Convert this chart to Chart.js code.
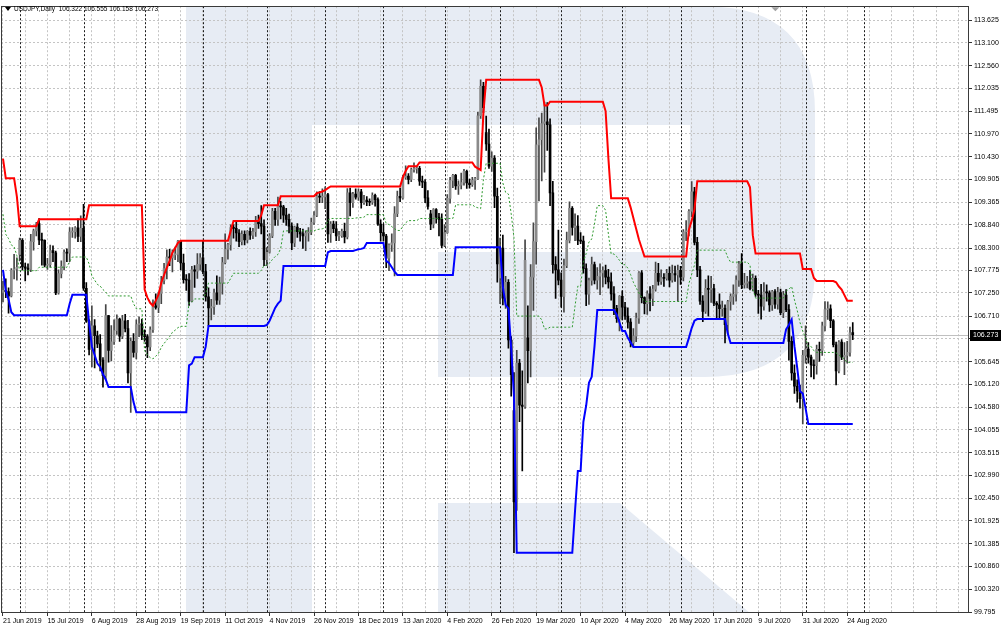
<!DOCTYPE html>
<html>
<head>
<meta charset="utf-8">
<title>USDJPY Daily</title>
<script src="https://cdn.jsdelivr.net/npm/chart.js@4.4.1/dist/chart.umd.min.js"></script>
<style>
  html, body { margin: 0; padding: 0; background: #fff; }
  #wrap { width: 1002px; height: 630px; }
</style>
</head>
<body>
<div id="wrap"><canvas id="usdjpy-chart" width="1002" height="630"></canvas></div>
<script>
// daily bars, 21 Jun 2019 .. 26 Aug 2020 (index = bar number)
const symbolTitle = 'USDJPY,Daily';

const opens = [
  107.26,107.31,107.28,107.18,107.78,107.81,108.15,108.48,107.86,107.83,
  107.80,108.45,108.70,108.87,108.49,108.48,107.90,107.91,108.24,108.19,
  107.25,107.70,107.87,108.20,108.18,108.67,108.68,108.77,108.57,108.76,
  107.36,106.59,105.93,106.48,106.25,106.06,105.68,105.32,106.72,105.91,
  106.11,106.37,106.64,106.24,106.60,106.42,105.38,106.12,105.86,106.51,
  106.53,106.27,106.23,105.99,106.39,106.95,106.91,107.24,107.54,107.82,
  108.09,108.07,108.14,108.15,108.46,107.95,107.56,107.55,107.06,107.79,
  107.76,107.92,108.07,107.75,107.16,106.90,106.93,107.25,107.08,107.48,
  107.96,108.27,108.38,108.78,108.76,108.65,108.45,108.62,108.49,108.69,
  108.60,108.68,108.92,108.87,108.81,108.03,108.20,108.58,109.16,108.97,
  109.28,109.26,109.07,108.97,108.81,108.42,108.79,108.68,108.63,108.58,
  108.65,108.67,108.90,109.06,109.51,109.49,109.50,109.55,108.63,108.86,
  108.75,108.58,108.59,108.69,108.56,109.59,109.36,109.56,109.49,109.61,
  109.36,109.42,109.38,109.37,109.53,109.43,108.86,108.66,108.58,108.06,
  108.37,108.42,109.10,109.51,109.47,109.95,109.98,109.90,110.13,110.15,
  110.16,109.86,109.84,109.47,109.10,108.86,109.20,109.02,108.97,108.36,
  108.66,109.46,109.88,110.00,109.75,109.77,109.83,110.09,109.82,109.78,
  109.88,109.92,111.39,112.08,111.00,110.73,110.21,110.40,109.51,107.60,
  108.30,107.13,107.50,106.15,104.50,102.37,105.61,104.63,104.60,106.20,
  105.90,107.62,108.45,110.71,110.83,111.21,111.25,111.18,109.59,107.91,
  107.79,107.55,107.17,107.89,108.48,109.23,108.78,108.81,108.48,108.46,
  107.82,107.22,107.54,107.91,107.55,107.64,107.72,107.77,107.62,107.51,
  107.23,106.89,106.65,107.17,106.92,106.71,106.57,106.08,106.24,106.66,
  107.72,107.14,107.00,107.23,107.12,107.34,107.71,107.52,107.61,107.59,
  107.71,107.55,107.70,107.67,107.78,107.62,108.68,108.69,109.16,109.61,
  108.43,107.79,107.06,106.82,107.36,107.33,107.35,107.01,106.97,106.88,
  106.89,106.51,107.05,107.17,107.22,107.55,107.93,107.44,107.48,107.51,
  107.35,107.59,107.22,107.20,106.94,107.27,107.25,106.97,107.28,106.99,
  107.26,106.79,107.20,106.86,106.12,105.38,105.07,104.96,104.78,105.79,
  105.94,105.75,105.57,105.55,105.93,105.91,106.48,106.86,106.88,106.60,
  106.04,105.43,106.10,105.75,105.79,105.86,106.322
];
const highs = [
  107.53,107.58,107.37,107.82,108.15,108.07,108.53,108.52,107.95,107.93,
  108.62,108.74,108.90,108.99,108.65,108.49,108.06,108.37,108.35,108.23,
  107.79,108.00,108.26,108.28,108.78,108.78,108.80,108.98,109.05,109.32,
  107.49,106.62,106.95,106.63,106.36,106.28,105.74,106.98,106.73,106.49,
  106.62,106.74,106.66,106.73,106.75,106.61,106.20,106.30,106.62,106.69,
  106.64,106.39,106.28,106.46,107.09,107.23,107.27,107.64,107.94,108.26,
  108.27,108.26,108.32,108.48,108.48,108.16,107.68,107.70,107.87,107.89,
  108.17,108.17,108.47,107.92,107.37,107.10,107.34,107.65,107.62,108.08,
  108.63,108.41,108.84,108.85,108.94,108.73,108.70,108.70,108.71,108.77,
  108.76,109.04,109.07,109.29,108.96,108.31,108.64,109.23,109.23,109.49,
  109.39,109.30,109.23,109.09,108.89,108.81,108.87,108.76,108.74,108.70,
  108.78,109.00,109.15,109.61,109.62,109.68,109.73,109.58,108.92,108.93,
  108.92,108.69,108.74,108.88,109.69,109.70,109.60,109.68,109.68,109.67,
  109.53,109.50,109.45,109.59,109.56,109.47,108.96,108.86,108.62,108.40,
  108.63,109.27,109.63,109.70,110.00,110.22,110.04,110.17,110.29,110.20,
  110.21,109.98,109.90,109.64,109.18,109.22,109.22,109.11,109.10,108.85,
  109.55,109.95,110.02,110.02,109.87,110.05,110.14,110.12,109.91,109.95,
  109.95,111.47,112.23,112.17,111.38,111.08,110.55,110.46,109.70,108.53,
  108.60,107.64,107.56,106.23,105.39,105.91,105.70,105.43,108.49,106.95,
  107.91,108.89,111.11,111.34,111.45,111.71,111.70,111.32,109.86,108.10,
  108.72,107.72,108.04,108.67,109.38,109.27,109.10,109.06,108.66,108.58,
  107.93,107.60,108.09,107.97,107.84,107.93,107.86,107.90,107.80,107.72,
  107.40,106.96,107.19,107.30,107.03,106.90,106.65,106.42,106.78,107.75,
  107.77,107.16,107.30,107.40,107.43,107.97,107.94,107.79,107.70,107.80,
  107.86,107.90,107.88,107.90,107.87,108.73,108.94,109.20,109.85,109.72,
  108.55,107.87,107.19,107.56,107.65,107.64,107.45,107.05,107.23,107.06,
  106.97,107.08,107.23,107.44,107.65,107.99,108.17,107.71,107.64,107.78,
  107.69,107.65,107.31,107.45,107.49,107.44,107.30,107.31,107.33,107.38,
  107.34,107.29,107.33,106.98,106.23,105.57,105.22,105.10,105.91,106.48,
  106.09,105.80,105.69,106.03,106.10,106.57,107.05,107.04,106.97,106.63,
  106.10,106.14,106.16,106.09,106.12,106.45,106.555
];
const lows = [
  107.04,107.14,106.78,107.16,107.58,107.55,108.00,107.79,107.53,107.67,
  107.75,108.25,108.58,108.38,107.90,107.86,107.80,107.85,107.98,107.21,
  107.22,107.60,107.79,107.98,107.98,108.55,108.53,108.45,108.45,107.31,
  106.56,105.80,105.52,105.50,105.97,105.43,105.05,105.23,105.63,105.66,
  106.05,106.28,106.12,106.18,106.34,105.15,104.46,105.75,105.71,106.23,
  106.16,106.12,105.74,105.90,106.33,106.87,106.79,107.00,107.46,107.58,
  107.89,107.74,108.03,107.98,107.79,107.48,107.31,106.96,107.04,107.38,
  107.59,107.78,107.70,107.06,106.48,106.62,106.75,106.98,106.98,107.22,
  107.93,108.04,108.25,108.53,108.46,108.33,108.37,108.37,108.42,108.50,
  108.52,108.57,108.76,108.63,107.89,107.89,108.18,108.54,108.83,108.83,
  108.98,108.90,108.83,108.65,108.26,108.33,108.55,108.46,108.29,108.24,
  108.46,108.61,108.85,109.03,109.36,109.36,109.22,108.43,108.43,108.66,
  108.47,108.47,108.55,108.42,108.51,109.05,109.25,109.44,109.41,109.23,
  109.32,109.29,109.29,109.32,109.28,108.83,108.46,108.46,107.84,107.77,
  108.22,107.65,109.03,109.38,109.44,109.91,109.80,109.85,110.07,110.05,
  109.76,109.71,109.36,109.21,108.73,108.77,108.88,108.58,108.31,108.33,
  108.64,109.35,109.71,109.67,109.55,109.68,109.77,109.69,109.70,109.74,
  109.67,109.90,111.33,111.46,110.58,110.16,110.09,109.24,107.50,107.00,
  106.97,106.89,105.96,104.84,101.18,102.17,104.24,103.09,104.55,105.15,
  105.29,106.84,107.92,109.40,109.87,110.07,110.58,109.29,107.71,107.12,
  107.44,106.92,106.80,107.84,108.42,108.60,108.47,108.38,108.40,107.71,
  106.95,106.98,107.43,107.46,107.34,107.21,107.39,107.46,107.36,107.08,
  106.74,106.56,106.36,106.62,106.63,106.43,105.99,105.99,106.11,106.54,
  107.02,106.76,106.75,106.83,106.95,107.29,107.43,107.45,107.40,107.55,
  107.39,107.50,107.52,107.06,107.45,107.53,108.47,108.58,109.03,108.37,
  107.63,106.98,106.58,106.77,106.71,107.03,106.95,106.67,106.63,106.71,
  106.08,106.32,106.85,106.98,107.06,107.40,107.35,107.36,107.37,107.32,
  107.30,107.17,106.77,106.64,106.85,107.06,106.82,106.84,106.89,106.87,
  106.74,106.67,106.81,105.68,105.21,104.90,104.70,104.56,104.19,105.61,
  105.61,105.29,105.24,105.35,105.65,105.79,106.36,106.63,106.44,105.99,
  105.10,105.38,105.69,105.34,105.61,105.77,106.158
];
const closes = [
  107.31,107.28,107.18,107.78,107.81,107.85,108.48,107.86,107.83,107.80,
  108.45,108.70,108.87,108.49,108.48,107.90,107.91,108.24,108.19,107.25,
  107.70,107.87,108.20,108.18,108.67,108.68,108.77,108.57,108.76,107.36,
  106.59,105.93,106.48,106.25,106.06,105.68,105.32,106.72,105.91,106.11,
  106.37,106.64,106.24,106.60,106.42,105.38,106.12,105.86,106.51,106.53,
  106.27,106.23,105.99,106.39,106.95,106.91,107.24,107.54,107.82,108.09,
  108.07,108.14,108.15,108.46,107.95,107.56,107.55,107.06,107.79,107.76,
  107.92,108.07,107.75,107.16,106.90,106.93,107.25,107.08,107.48,107.96,
  108.27,108.38,108.78,108.76,108.65,108.45,108.62,108.49,108.69,108.60,
  108.68,108.92,108.87,108.81,108.03,108.20,108.58,109.16,108.97,109.28,
  109.26,109.07,108.97,108.81,108.42,108.79,108.68,108.63,108.58,108.65,
  108.67,108.90,109.06,109.51,109.49,109.50,109.55,108.63,108.86,108.75,
  108.58,108.59,108.69,108.56,109.59,109.36,109.56,109.49,109.61,109.36,
  109.42,109.38,109.37,109.53,109.43,108.86,108.66,108.58,108.06,108.37,
  108.42,109.10,109.51,109.47,109.95,109.98,109.90,110.13,110.15,110.16,
  109.86,109.84,109.47,109.27,108.86,109.20,109.02,108.97,108.36,108.66,
  109.46,109.88,110.00,109.75,109.77,109.83,110.09,109.82,109.78,109.88,
  109.92,111.39,112.08,111.58,110.73,110.21,110.40,109.51,107.93,108.30,
  107.13,107.50,106.15,105.34,102.37,105.61,104.63,104.60,108.01,105.90,
  107.62,108.45,110.71,110.83,111.21,111.25,111.18,109.59,107.91,107.79,
  107.55,107.17,107.89,108.48,109.23,108.78,108.81,108.48,108.46,107.82,
  107.22,107.54,107.91,107.55,107.64,107.72,107.77,107.62,107.51,107.23,
  106.89,106.65,107.17,106.92,106.71,106.57,106.08,106.24,106.66,107.72,
  107.14,107.00,107.23,107.12,107.34,107.71,107.52,107.61,107.59,107.71,
  107.55,107.70,107.67,107.78,107.62,108.68,108.69,109.16,109.61,108.43,
  107.79,107.06,106.82,107.36,107.33,107.35,107.01,106.97,106.88,106.89,
  106.51,107.05,107.17,107.22,107.55,107.93,107.44,107.48,107.51,107.35,
  107.59,107.22,107.20,106.94,107.27,107.25,106.97,107.28,106.99,107.26,
  106.79,107.20,106.86,106.12,105.38,105.07,104.96,104.78,105.79,105.94,
  105.75,105.57,105.55,105.93,105.91,106.48,106.86,106.88,106.60,106.04,
  105.43,106.10,105.75,105.79,105.86,106.32,106.273
];

// Donchian channel
const channelUpper = [
  110.39,109.93,109.93,109.93,109.93,109.50,108.81,108.81,108.81,108.81,
  108.81,108.81,108.81,108.97,108.97,108.97,108.97,108.97,108.97,108.97,
  108.97,108.97,108.97,108.97,108.97,108.97,108.97,108.97,108.97,108.97,
  108.97,109.30,109.30,109.30,109.30,109.30,109.30,109.30,109.30,109.30,
  109.30,109.30,109.30,109.30,109.30,109.30,109.30,109.30,109.30,109.30,
  109.30,107.33,107.14,107.02,106.95,107.07,107.21,107.49,107.67,107.84,
  108.00,108.19,108.30,108.42,108.47,108.47,108.47,108.47,108.47,108.47,
  108.47,108.47,108.47,108.47,108.47,108.47,108.47,108.47,108.47,108.47,
  108.47,108.47,108.70,108.93,108.93,108.93,108.93,108.93,108.93,108.93,
  108.93,108.93,108.93,109.07,109.30,109.30,109.30,109.30,109.30,109.30,
  109.51,109.51,109.51,109.51,109.51,109.51,109.51,109.51,109.51,109.51,
  109.51,109.51,109.51,109.58,109.60,109.62,109.65,109.70,109.74,109.74,
  109.74,109.74,109.74,109.74,109.74,109.74,109.74,109.74,109.74,109.74,
  109.74,109.74,109.74,109.74,109.74,109.74,109.74,109.74,109.74,109.74,
  109.74,109.74,109.74,109.74,109.95,110.10,110.21,110.21,110.21,110.21,
  110.30,110.30,110.30,110.30,110.30,110.30,110.30,110.30,110.30,110.30,
  110.30,110.30,110.30,110.30,110.30,110.30,110.30,110.30,110.30,110.30,
  110.20,110.16,110.12,111.47,112.23,112.23,112.23,112.23,112.23,112.23,
  112.23,112.23,112.23,112.23,112.23,112.23,112.23,112.23,112.23,112.23,
  112.23,112.23,112.23,112.23,112.05,111.63,111.63,111.72,111.72,111.72,
  111.72,111.72,111.72,111.72,111.72,111.72,111.72,111.72,111.72,111.72,
  111.72,111.72,111.72,111.72,111.72,111.72,111.72,111.50,110.40,109.46,
  109.46,109.46,109.46,109.46,109.46,109.46,109.25,109.00,108.75,108.50,
  108.30,108.10,108.10,108.10,108.10,108.10,108.10,108.10,108.10,108.10,
  108.10,108.10,108.10,108.10,108.10,108.10,108.10,108.73,108.94,109.20,
  109.86,109.86,109.86,109.86,109.86,109.86,109.86,109.86,109.86,109.86,
  109.86,109.86,109.86,109.86,109.86,109.86,109.86,109.86,109.86,109.72,
  108.60,108.17,108.17,108.17,108.17,108.17,108.17,108.17,108.17,108.17,
  108.17,108.17,108.17,108.17,108.17,108.17,108.17,108.17,107.81,107.81,
  107.81,107.81,107.60,107.53,107.53,107.53,107.53,107.53,107.53,107.53,
  107.50,107.40,107.33,107.20,107.07,107.07,107.07
];
const channelLower = [
  107.79,107.30,107.10,106.80,106.73,106.73,106.73,106.73,106.73,106.73,
  106.73,106.73,106.73,106.73,106.73,106.73,106.73,106.73,106.73,106.73,
  106.73,106.73,106.73,106.73,107.00,107.21,107.21,107.21,107.21,107.21,
  107.21,106.56,106.00,105.80,105.60,105.52,105.35,105.23,105.05,105.05,
  105.05,105.05,105.05,105.05,105.05,105.05,105.05,104.70,104.46,104.46,
  104.46,104.46,104.46,104.46,104.46,104.46,104.46,104.46,104.46,104.46,
  104.46,104.46,104.46,104.46,104.46,104.46,104.46,105.56,105.60,105.75,
  105.75,105.75,105.75,106.00,106.48,106.48,106.48,106.48,106.48,106.48,
  106.48,106.48,106.48,106.48,106.48,106.48,106.48,106.48,106.48,106.48,
  106.48,106.48,106.48,106.48,106.48,106.50,106.60,106.75,106.90,107.00,
  107.07,107.88,107.88,107.88,107.88,107.88,107.88,107.88,107.88,107.88,
  107.88,107.88,107.88,107.88,107.88,107.88,107.88,108.20,108.23,108.23,
  108.23,108.23,108.23,108.23,108.23,108.23,108.23,108.25,108.27,108.28,
  108.30,108.42,108.42,108.42,108.42,108.42,108.42,108.42,108.00,107.95,
  107.85,107.75,107.67,107.67,107.67,107.67,107.67,107.67,107.67,107.67,
  107.67,107.67,107.67,107.67,107.67,107.67,107.67,107.67,107.67,107.67,
  107.67,107.67,107.67,108.32,108.32,108.32,108.32,108.32,108.32,108.32,
  108.32,108.32,108.32,108.32,108.32,108.32,108.32,108.32,108.32,108.32,
  107.40,106.97,106.89,105.96,104.84,101.18,101.18,101.18,101.18,101.18,
  101.18,101.18,101.18,101.18,101.18,101.18,101.18,101.18,101.18,101.18,
  101.18,101.18,101.18,101.18,101.18,101.18,102.17,103.09,103.09,104.24,
  104.62,105.15,105.29,106.00,106.85,106.85,106.85,106.85,106.85,106.85,
  106.85,106.74,106.56,106.36,106.36,106.20,106.10,105.99,105.99,105.99,
  105.99,105.99,105.99,105.99,105.99,105.99,105.99,105.99,105.99,105.99,
  105.99,105.99,105.99,105.99,105.99,105.99,105.99,106.20,106.43,106.60,
  106.64,106.64,106.64,106.64,106.64,106.64,106.64,106.64,106.64,106.64,
  106.64,106.30,106.08,106.08,106.08,106.08,106.08,106.08,106.08,106.08,
  106.08,106.08,106.08,106.08,106.08,106.08,106.08,106.08,106.08,106.08,
  106.08,106.08,106.40,106.50,106.63,106.00,105.50,104.95,104.90,104.56,
  104.19,104.19,104.19,104.19,104.19,104.19,104.19,104.19,104.19,104.19,
  104.19,104.19,104.19,104.19,104.19,104.19,104.19
];
const channelMiddle = [
  109.09,108.62,108.52,108.37,108.33,108.12,107.77,107.77,107.77,107.77,
  107.77,107.77,107.77,107.85,107.85,107.85,107.85,107.85,107.85,107.85,
  107.85,107.85,107.85,107.85,107.99,108.09,108.09,108.09,108.09,108.09,
  108.09,107.93,107.65,107.55,107.45,107.41,107.33,107.27,107.18,107.18,
  107.18,107.18,107.18,107.18,107.18,107.18,107.18,107.00,106.88,106.88,
  106.88,105.90,105.80,105.74,105.71,105.77,105.84,105.98,106.07,106.15,
  106.23,106.33,106.38,106.44,106.47,106.47,106.47,107.02,107.04,107.11,
  107.11,107.11,107.11,107.24,107.48,107.48,107.48,107.48,107.48,107.48,
  107.48,107.48,107.59,107.71,107.71,107.71,107.71,107.71,107.71,107.71,
  107.71,107.71,107.71,107.78,107.89,107.90,107.95,108.03,108.10,108.15,
  108.29,108.70,108.70,108.70,108.70,108.70,108.70,108.70,108.70,108.70,
  108.70,108.70,108.70,108.73,108.74,108.75,108.77,108.95,108.99,108.99,
  108.99,108.99,108.99,108.99,108.99,108.99,108.99,109.00,109.01,109.01,
  109.02,109.08,109.08,109.08,109.08,109.08,109.08,109.08,108.87,108.85,
  108.80,108.75,108.71,108.71,108.81,108.89,108.94,108.94,108.94,108.94,
  108.99,108.99,108.99,108.99,108.99,108.99,108.99,108.99,108.99,108.99,
  108.99,108.99,108.99,109.31,109.31,109.31,109.31,109.31,109.31,109.31,
  109.26,109.24,109.22,109.90,110.28,110.28,110.28,110.28,110.28,110.28,
  109.82,109.60,109.56,109.10,108.54,106.71,106.71,106.71,106.71,106.71,
  106.71,106.71,106.71,106.71,106.62,106.41,106.41,106.45,106.45,106.45,
  106.45,106.45,106.45,106.45,106.45,106.45,106.95,107.41,107.41,107.98,
  108.17,108.44,108.51,108.86,109.29,109.29,109.29,109.18,108.63,108.16,
  108.16,108.10,108.01,107.91,107.91,107.83,107.68,107.50,107.37,107.25,
  107.15,107.05,107.05,107.05,107.05,107.05,107.05,107.05,107.05,107.05,
  107.05,107.05,107.05,107.05,107.05,107.05,107.05,107.47,107.69,107.90,
  108.25,108.25,108.25,108.25,108.25,108.25,108.25,108.25,108.25,108.25,
  108.25,108.08,107.97,107.97,107.97,107.97,107.97,107.97,107.97,107.90,
  107.34,107.13,107.13,107.13,107.13,107.13,107.13,107.13,107.13,107.13,
  107.13,107.13,107.29,107.34,107.40,107.09,106.84,106.56,106.36,106.19,
  106.00,106.00,105.90,105.86,105.86,105.86,105.86,105.86,105.86,105.86,
  105.85,105.80,105.76,105.70,105.63,105.63,105.63
];

// axis texts
const dateLabels = ['21 Jun 2019', '15 Jul 2019', '6 Aug 2019', '28 Aug 2019', '19 Sep 2019',
  '11 Oct 2019', '4 Nov 2019', '26 Nov 2019', '18 Dec 2019', '13 Jan 2020', '4 Feb 2020',
  '26 Feb 2020', '19 Mar 2020', '10 Apr 2020', '4 May 2020', '26 May 2020', '17 Jun 2020',
  '9 Jul 2020', '31 Jul 2020', '24 Aug 2020'];
const barsPerLabel = 16;
const monthStartBars = [6, 29, 51, 72, 95, 116, 137, 159, 179, 201, 223, 244, 266, 289, 310];
const priceTicks = [113.625, 113.100, 112.560, 112.035, 111.495, 110.970, 110.430, 109.905,
  109.365, 108.840, 108.300, 107.775, 107.250, 106.710, 106.185, 105.645, 105.120, 104.580,
  104.055, 103.515, 102.990, 102.450, 101.925, 101.385, 100.860, 100.320, 99.795];

Chart.defaults.font.family = "'Liberation Sans', Arial, sans-serif";

const lastBar = closes.length - 1;
const lastLabelBar = (dateLabels.length - 1) * barsPerLabel;
const gridBars = [];
for (let b = 0; b <= 344; b += barsPerLabel / 2) gridBars.push(b);

const bullBody = '#8a8a8a', bullWick = '#454545', bearBody = '#000000', bearWick = '#000000';
const bodyColors = opens.map((o, i) => closes[i] >= o ? bullBody : bearBody);
const wickColors = opens.map((o, i) => closes[i] >= o ? bullWick : bearWick);

const fmt = v => v.toFixed(3);

const mtDecor = {
  id: 'mtDecor',
  beforeDraw(chart) {
    const { ctx, chartArea: a } = chart;
    ctx.save();
    ctx.fillStyle = '#fff';
    ctx.fillRect(0, 0, chart.width, chart.height);
    ctx.beginPath();
    ctx.rect(a.left, a.top, a.right - a.left, a.bottom - a.top);
    ctx.clip();
    // broker watermark "R"
    ctx.fillStyle = '#e7ecf4';
    ctx.beginPath();
    ctx.moveTo(186, a.top);
    ctx.lineTo(705, a.top);
    ctx.quadraticCurveTo(815, a.top, 815, 112);
    ctx.lineTo(815, 267);
    ctx.quadraticCurveTo(815, 377, 705, 377);
    ctx.lineTo(438, 377);
    ctx.lineTo(438, 252);
    ctx.lineTo(690, 252);
    ctx.lineTo(690, 125);
    ctx.lineTo(312, 125);
    ctx.lineTo(312, a.bottom);
    ctx.lineTo(186, a.bottom);
    ctx.closePath();
    ctx.fill();
    ctx.beginPath();
    ctx.moveTo(438, 503);
    ctx.lineTo(620, 503);
    ctx.lineTo(770, 630);
    ctx.lineTo(438, 630);
    ctx.closePath();
    ctx.fill();
    ctx.restore();
  },
  beforeDatasetsDraw(chart) {
    const { ctx, chartArea: a, scales: { x, y } } = chart;
    ctx.save();
    // period separators
    ctx.strokeStyle = '#1a1a1a';
    ctx.lineWidth = 1;
    ctx.setLineDash([2, 2]);
    monthStartBars.forEach(b => {
      const px = Math.round(x.getPixelForValue(b)) + 0.5;
      ctx.beginPath();
      ctx.moveTo(px, a.top);
      ctx.lineTo(px, a.bottom);
      ctx.stroke();
    });
    // bid line
    ctx.setLineDash([]);
    ctx.strokeStyle = '#c0c0c0';
    const py = Math.round(y.getPixelForValue(closes[lastBar])) + 0.5;
    ctx.beginPath();
    ctx.moveTo(a.left, py);
    ctx.lineTo(a.right, py);
    ctx.stroke();
    ctx.restore();
  },
  afterDraw(chart) {
    const { ctx, chartArea: a, scales: { y } } = chart;
    ctx.save();
    // frame
    ctx.strokeStyle = '#3a3a3a';
    ctx.lineWidth = 1;
    ctx.strokeRect(Math.round(a.left) + 0.5, Math.round(a.top) + 0.5,
      Math.round(a.right - a.left) - 1, Math.round(a.bottom - a.top) - 1);
    // last price box
    const py = Math.round(y.getPixelForValue(closes[lastBar]));
    ctx.fillStyle = '#000';
    ctx.fillRect(a.right + 1, py - 5, 31, 11);
    ctx.fillStyle = '#fff';
    ctx.font = "7px 'Liberation Sans', Arial, sans-serif";
    ctx.textBaseline = 'middle';
    ctx.textAlign = 'left';
    ctx.fillText(fmt(closes[lastBar]), a.right + 4, py + 0.5);
    // chart shift marker
    ctx.fillStyle = '#a0a0a0';
    const sx = a.left + (a.right - a.left) * 0.8;
    ctx.beginPath();
    ctx.moveTo(sx - 4, a.top + 1);
    ctx.lineTo(sx + 4, a.top + 1);
    ctx.lineTo(sx, a.top + 5);
    ctx.closePath();
    ctx.fill();
    // title
    ctx.fillStyle = '#000';
    ctx.beginPath();
    ctx.moveTo(5, 7);
    ctx.lineTo(11, 7);
    ctx.lineTo(8, 11);
    ctx.closePath();
    ctx.fill();
    ctx.font = "6.5px 'Liberation Sans', Arial, sans-serif";
    ctx.fillText(symbolTitle + '  ' + [opens, highs, lows, closes].map(s => fmt(s[lastBar])).join(' '), 14, 9.5);
    ctx.restore();
  }
};

const toPoints = arr => arr.map((v, i) => ({ x: i, y: v }));

new Chart(document.getElementById('usdjpy-chart'), {
  type: 'bar',
  data: {
    datasets: [
      { type: 'line', label: 'Upper', data: toPoints(channelUpper), borderColor: '#ff0000', borderWidth: 2,
        pointRadius: 0, tension: 0, order: 0 },
      { type: 'line', label: 'Lower', data: toPoints(channelLower), borderColor: '#0000ff', borderWidth: 2,
        pointRadius: 0, tension: 0, order: 0 },
      { type: 'line', label: 'Middle', data: toPoints(channelMiddle), borderColor: '#2e9a2e', borderWidth: 1,
        borderDash: [2, 2], pointRadius: 0, tension: 0, order: 0 },
      { type: 'bar', label: 'Body', data: opens.map((o, i) => ({ x: i, y: [Math.min(o, closes[i]), Math.max(o, closes[i])] })),
        backgroundColor: bodyColors, borderWidth: 0, barThickness: 2, minBarLength: 1, grouped: false, order: 1 },
      { type: 'bar', label: 'Wick', data: lows.map((l, i) => ({ x: i, y: [l, highs[i]] })),
        backgroundColor: wickColors, borderWidth: 0, barThickness: 1, grouped: false, order: 2 }
    ]
  },
  options: {
    responsive: false,
    animation: false,
    devicePixelRatio: 1,
    layout: { padding: { left: 1, top: 2, right: 0, bottom: 0 } },
    plugins: { legend: { display: false }, tooltip: { enabled: false } },
    scales: {
      x: {
        type: 'linear',
        min: -0.72,
        max: 347.86,
        offset: false,
        afterBuildTicks: s => { s.ticks = gridBars.map(v => ({ value: v })); },
        afterFit: s => { s.height = 17; },
        grid: {
          color: '#c4c4c4',
          offset: false,
          tickLength: 3,
          tickColor: c => (c.tick && c.tick.value % barsPerLabel === 0 && c.tick.value <= lastLabelBar) ? '#333' : 'rgba(0,0,0,0)'
        },
        border: { display: false, dash: [2, 2] },
        ticks: {
          autoSkip: false,
          maxRotation: 0,
          align: 'start',
          padding: 1,
          color: '#000',
          font: { size: 7 },
          callback: v => (v % barsPerLabel === 0 && dateLabels[v / barsPerLabel]) ? dateLabels[v / barsPerLabel] : ''
        }
      },
      y: {
        position: 'right',
        min: 99.772,
        max: 113.95,
        afterBuildTicks: s => { s.ticks = priceTicks.map(v => ({ value: v })); },
        afterFit: s => { s.width = 33; },
        grid: { color: '#c4c4c4', tickLength: 3, tickColor: '#333' },
        border: { display: false, dash: [2, 2] },
        ticks: { padding: 2, color: '#000', font: { size: 7 }, callback: v => fmt(v) }
      }
    }
  },
  plugins: [mtDecor]
});
</script>
</body>
</html>
